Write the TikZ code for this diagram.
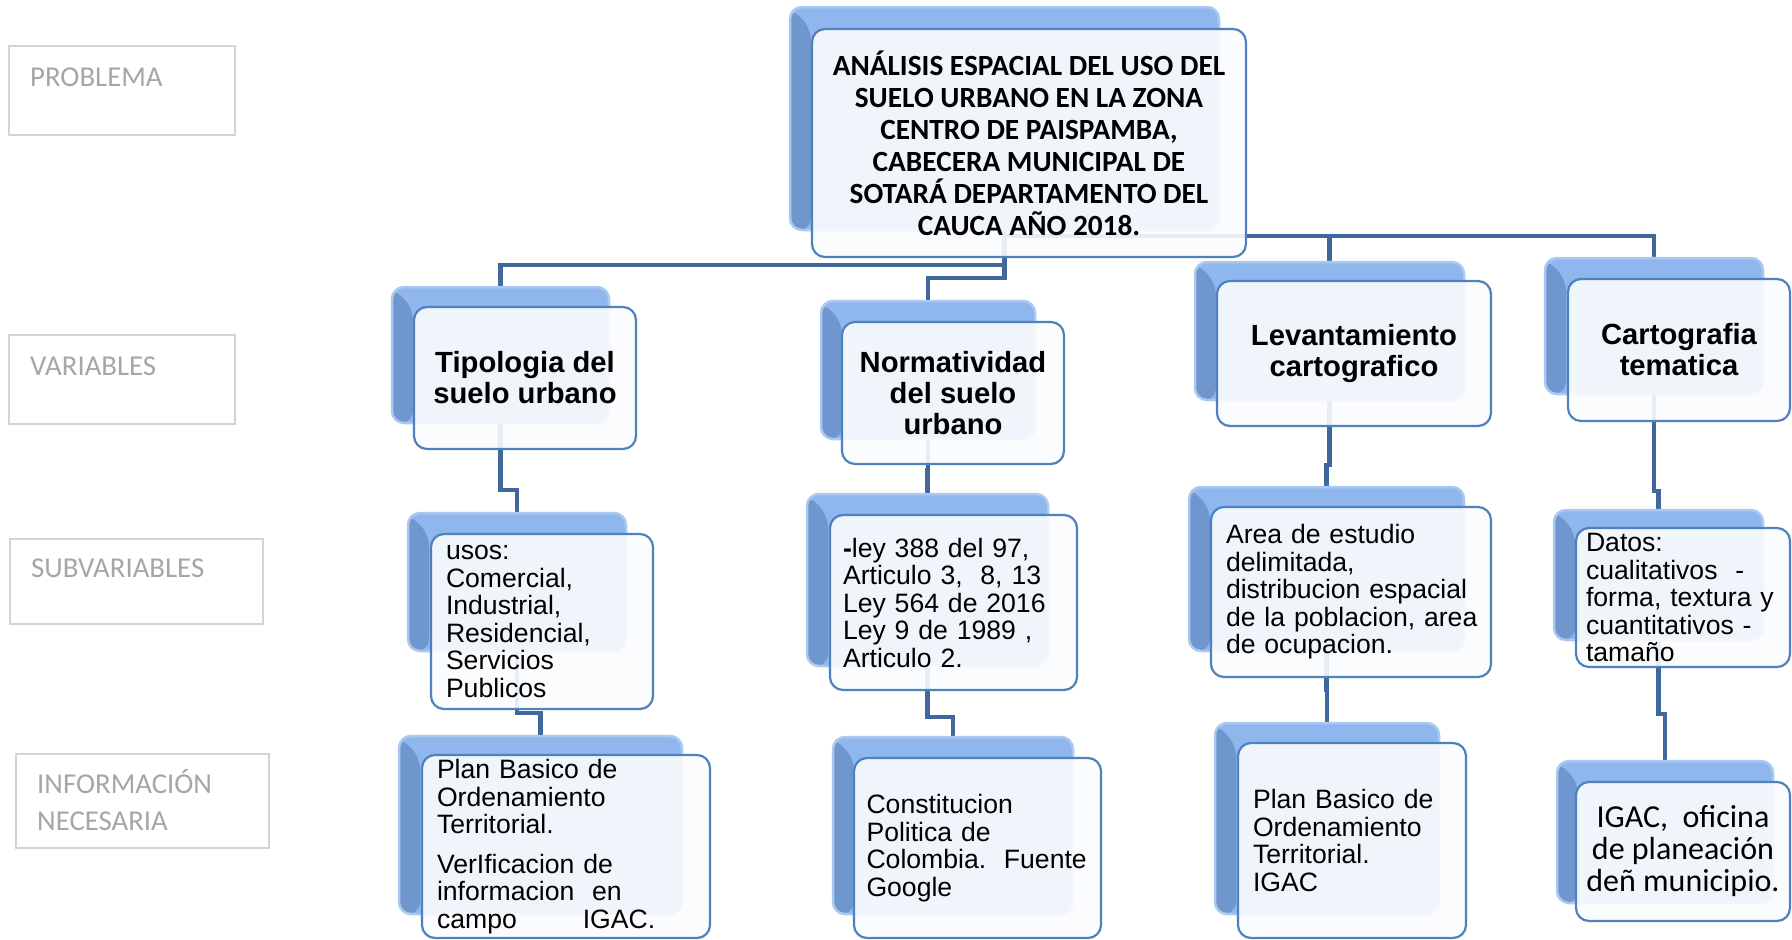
\documentclass[tikz,border=0pt]{standalone}
\usepackage{fontspec}
\setmainfont{Liberation Sans}
\newfontfamily\calf{Carlito}
\newfontfamily\arialf{Liberation Sans}
\definecolor{conncol}{RGB}{64,104,156}
\definecolor{fborder}{RGB}{79,129,189}
\definecolor{ffill}{RGB}{251,252,254}
\definecolor{btop}{RGB}{143,183,238}
\definecolor{bleft}{RGB}{112,150,206}
\definecolor{bglow}{RGB}{170,200,240}
\definecolor{lblgray}{RGB}{166,166,166}
\definecolor{lblline}{RGB}{212,212,212}
\newcommand\ttlfont{\calf\bfseries\fontsize{29.3}{32}\selectfont}
\newcommand\varfont{\arialf\bfseries\fontsize{29.2}{31}\selectfont}
\newcommand\bodyfont{\arialf\fontsize{26.6}{27.5}\selectfont}
\newcommand\igacfont{\calf\fontsize{32}{32}\selectfont}
\newcommand\lblfont{\calf\fontsize{28.8}{37}\selectfont}
\pgfdeclarelayer{bg}
\pgfsetlayers{bg,main}
\tikzset{
  connector/.style={draw=conncol, line width=4.5pt},
  backbox/.style={rounded corners=12pt, fill=btop, draw=bglow, line width=2.5pt, inner sep=0pt,
    path picture={\fill[bleft] (path picture bounding box.north west) -- ++(21pt,-21pt)
      |- (path picture bounding box.south west) -- cycle;}},
  frontbox/.style={rounded corners=13pt, draw=fborder, line width=2.2pt, fill=ffill,
    fill opacity=0.9, text opacity=1, inner sep=0pt},
  vartext/.style={align=center, font=\varfont},
  bodytext/.style={align=left, font=\bodyfont},
  lblbox/.style={draw=lblline, line width=2pt, inner sep=0pt},
  lbltext/.style={font=\lblfont, text=lblgray, inner sep=0pt, align=left}
}
\begin{document}
\begin{tikzpicture}[x=1pt,y=-1pt]
\useasboundingbox (0,0) rectangle (1792,940);

% left labels
\node[lblbox, minimum width=226pt, minimum height=89pt] (lb1) at (122,90.5) {};
\node[lbltext, anchor=base west] (lt1) at (30,86) {PROBLEMA};
\node[lblbox, minimum width=226pt, minimum height=89pt] (lb2) at (122,379.5) {};
\node[lbltext, anchor=base west] (lt2) at (30,375) {VARIABLES};
\node[lblbox, minimum width=253pt, minimum height=85pt] (lb3) at (136.5,581.5) {};
\node[lbltext, anchor=base west] (lt3) at (31,577) {SUBVARIABLES};
\node[lblbox, minimum width=253pt, minimum height=94pt] (lb4) at (142.5,801) {};
\node[lbltext, anchor=west] (lt4) at (37,800) {INFORMACIÓN\\NECESARIA};

% back boxes
\node[backbox, minimum width=429pt, minimum height=223pt] (tb) at (1004.5,118.5) {};
\node[backbox, minimum width=217pt, minimum height=136pt] (pb1) at (500.5,355) {};
\node[backbox, minimum width=214pt, minimum height=138pt] (pb2) at (928,370) {};
\node[backbox, minimum width=269pt, minimum height=138pt] (pb3) at (1329.5,331) {};
\node[backbox, minimum width=218pt, minimum height=136pt] (pb4) at (1654,326) {};
\node[backbox, minimum width=218pt, minimum height=138pt] (sb1) at (517,582) {};
\node[backbox, minimum width=241pt, minimum height=172pt] (sb2) at (927.5,580) {};
\node[backbox, minimum width=275pt, minimum height=164pt] (sb3) at (1326.5,569) {};
\node[backbox, minimum width=209pt, minimum height=130pt] (sb4) at (1658.5,575) {};
\node[backbox, minimum width=283pt, minimum height=178pt] (ib1) at (540.5,825) {};
\node[backbox, minimum width=240pt, minimum height=177pt] (ib2) at (953,825.5) {};
\node[backbox, minimum width=224pt, minimum height=191pt] (ib3) at (1327,818.5) {};
\node[backbox, minimum width=216pt, minimum height=142pt] (ib4) at (1665,832) {};

% front boxes
\node[frontbox, minimum width=434pt, minimum height=228pt, align=center, font=\ttlfont] (tf) at (1029,143)
  {ANÁLISIS ESPACIAL DEL USO DEL\\SUELO URBANO EN LA ZONA\\CENTRO DE PAISPAMBA,\\CABECERA MUNICIPAL DE\\SOTARÁ DEPARTAMENTO DEL\\CAUCA AÑO 2018.};
\node[frontbox, vartext, minimum width=222pt, minimum height=142pt] (pf1) at (525,378) {Tipologia del\\suelo urbano};
\node[frontbox, vartext, minimum width=222pt, minimum height=142pt] (pf2) at (953,393) {Normatividad\\del suelo\\urbano};
\node[frontbox, vartext, minimum width=274pt, minimum height=145pt] (pf3) at (1354,353.5) {Levantamiento\\cartografico};
\node[frontbox, vartext, minimum width=222pt, minimum height=142pt] (pf4) at (1679,350) {Cartografia\\tematica};

\node[frontbox, bodytext, minimum width=222pt, minimum height=175pt, text width=192pt] (sf1) at (542,621.5)
  {usos:\\Comercial,\\Industrial,\\Residencial,\\Servicios\\Publicos};
\node[frontbox, bodytext, minimum width=247pt, minimum height=175pt, text width=221pt] (sf2) at (953.5,602.5)
  {\textbf{-}ley 388 del 97,\\Articulo 3,\ \ 8, 13\\Ley 564 de 2016\\Ley 9 de 1989 ,\\Articulo 2.};
\node[frontbox, bodytext, minimum width=280pt, minimum height=170pt, text width=250pt] (sf3) at (1351,592)
  {Area de estudio\\delimitada,\\\mbox{distribucion espacial}\\\mbox{de la poblacion, area}\\de ocupacion.};
\node[frontbox, bodytext, minimum width=214pt, minimum height=139pt, text width=194pt] (sf4) at (1683,597.5)
  {Datos:\\cualitativos\ \ -\\\mbox{forma, textura y}\\cuantitativos -\\tamaño};

\node[frontbox, bodytext, minimum width=288pt, minimum height=183pt, text width=258pt] (if1) at (566,846.5)
  {Plan Basico de\\Ordenamiento\\Territorial.\\[12pt]VerIficacion de\\informacion\ \ en\\campo\hspace{66pt}IGAC.};
\node[frontbox, bodytext, minimum width=247pt, minimum height=180pt, text width=222pt] (if2) at (977.5,848)
  {Constitucion\\Politica de\\\mbox{Colombia.\ \ Fuente}\\Google};
\node[frontbox, bodytext, minimum width=228pt, minimum height=195pt, text width=198pt] (if3) at (1352,840.5)
  {Plan Basico de\\Ordenamiento\\Territorial.\\IGAC};
\node[frontbox, align=center, font=\igacfont, minimum width=214pt, minimum height=139pt] (if4) at (1683,851.5)
  {IGAC,\ \ oficina\\de planeación\\deñ municipio.};

% connectors
\begin{pgfonlayer}{bg}
\draw[connector] (tb.south) -- (tb.south |- 0,265) -| (pb1.north);
\draw[connector] (tb.south) -- (tb.south |- 0,278) -| (pb2.north);
\draw[connector] (tb.south) -- (tb.south |- 0,236) -| (pb3.north);
\draw[connector] (tb.south) -- (tb.south |- 0,236) -| (pb4.north);
\draw[connector] (pb1.south) -- (pb1.south |- 0,490) -| (sb1.north);
\draw[connector] (pb2.south) -- (pb2.south |- 0,470) -| (sb2.north);
\draw[connector] (pb3.south) -- (pb3.south |- 0,465) -| (sb3.north);
\draw[connector] (pb4.south) -- (pb4.south |- 0,491) -| (sb4.north);
\draw[connector] (sb1.south) -- (sb1.south |- 0,713) -| (ib1.north);
\draw[connector] (sb2.south) -- (sb2.south |- 0,717) -| (ib2.north);
\draw[connector] (sb3.south) -- (sb3.south |- 0,690) -| (ib3.north);
\draw[connector] (sb4.south) -- (sb4.south |- 0,714) -| (ib4.north);
\end{pgfonlayer}
\end{tikzpicture}
\end{document}
